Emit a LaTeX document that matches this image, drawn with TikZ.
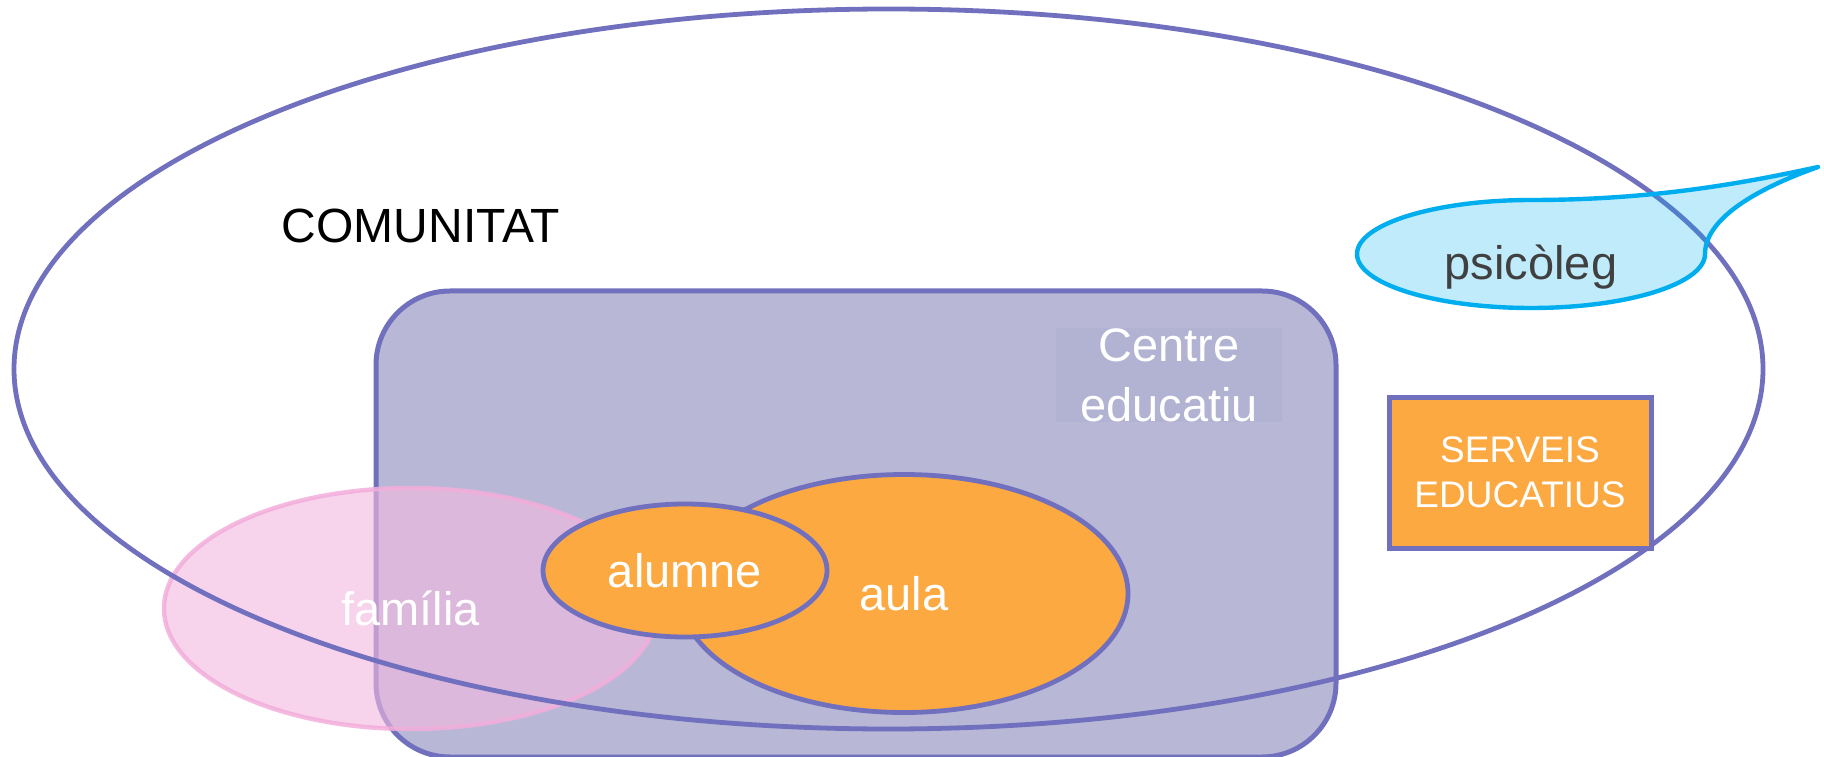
\documentclass[tikz,border=0pt]{standalone}
\usepackage{fontspec}
\setmainfont{Liberation Sans}
\usetikzlibrary{shapes.geometric}
\definecolor{linepurple}{HTML}{7070BE}
\definecolor{rectfill}{HTML}{B8B8D6}
\definecolor{lblfill}{HTML}{B2B2D2}
\definecolor{orangefill}{HTML}{FDA942}
\definecolor{pinkfill}{HTML}{F2B8E0}
\definecolor{pinkline}{HTML}{F2AEDB}
\definecolor{cyanline}{HTML}{00AEEF}
\definecolor{greytext}{HTML}{404040}
\tikzset{
  bigfont/.style={font=\fontsize{23.5}{30}\selectfont},
  ell/.style={ellipse, inner sep=0pt, outer sep=0pt},
  orangeell/.style={ell, draw=linepurple, line width=2.4pt, fill=orangefill, text=white, bigfont},
}
\begin{document}
\begin{tikzpicture}[x=0.5pt,y=0.5pt]
\useasboundingbox (0,0) rectangle (1824,756);
% centre educatiu rectangle
\node[draw=linepurple, line width=2.5pt, fill=rectfill, rounded corners=37pt,
      minimum width=480pt, minimum height=233pt, inner sep=0pt] (centre) at (856,232) {};
\node[fill=lblfill, minimum width=113pt, minimum height=38pt, inner sep=0pt,
      text=white, align=center, bigfont] (centrelbl) at (1169,381) {Centre\\educatiu};
% familia
\node[ell, draw=pinkline, draw opacity=0.85, line width=2.2pt, fill=pinkfill, fill opacity=0.62,
      text opacity=1, text=white, bigfont,
      minimum width=246.5pt, minimum height=120.5pt] (familia) at (410.5,147.5) {fam\'ilia};
% aula and alumne
\node[orangeell, minimum width=224pt, minimum height=119pt] (aula) at (904,162.5) {aula};
\node[orangeell, minimum width=142pt, minimum height=66.5pt] (alumne) at (685,185.5) {alumne};
% comunitat
\node[ell, draw=linepurple, line width=2.4pt, minimum width=874.5pt, minimum height=360pt] (comunitat) at (888.5,387) {};
\node[anchor=base, font=\fontsize{24}{28}\selectfont, text=black] (comlbl) at (421,513) {COMUNITAT};
% serveis educatius
\node[draw=linepurple, line width=2.5pt, fill=orangefill, minimum width=131pt, minimum height=75.5pt,
      inner sep=0pt, text=white, align=center, font=\fontsize{18.5}{22.5}\selectfont] (serveis) at (1520,283.5) {SERVEIS\\EDUCATIUS};
% psicoleg callout
\path[draw=cyanline, line width=2.2pt, fill=cyanline, fill opacity=0.25, line join=round]
  (1531,556) .. controls (1650,556) and (1740,572) .. (1818,589)
  .. controls (1750,565) and (1705,535) .. (1705,502)
  arc[start angle=0, end angle=-270, x radius=174, y radius=54] -- cycle;
\node[anchor=base, text=greytext, bigfont] (psicoleg) at (1531,476) {psic\`oleg};
\end{tikzpicture}
\end{document}
